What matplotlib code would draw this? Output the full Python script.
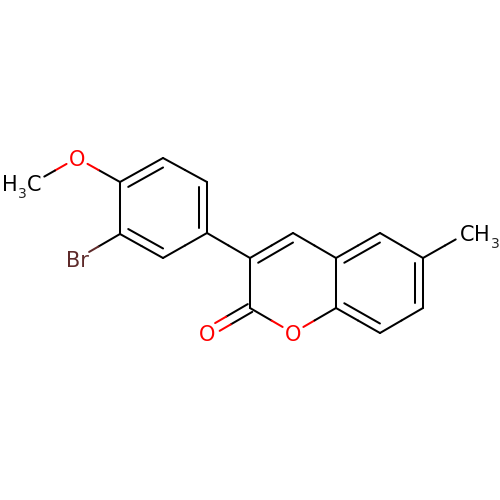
import numpy as np
import matplotlib
matplotlib.use("Agg")
import matplotlib.pyplot as plt

# atom positions (pixels)
names = ["C1p", "C2p", "C3p", "C4p", "C5p", "C6p", "OMe", "CMe", "Br",
         "C3", "C4", "C4a", "C5", "C6", "C7", "C8", "C8a", "O1", "C2", "O2", "C6Me"]
xs = [207, 163, 120, 120, 163, 207, 77, 33, 77,
      250, 293, 336, 380, 423, 423, 380, 336, 293, 250, 207, 467]
ys = [233, 258, 234, 182, 158, 182, 158, 183, 259,
      258, 233, 258, 233, 258, 308, 333, 308, 333, 308, 333, 233]

single_bonds = [("C1p", "C3"), ("C3p", "Br"), ("C4p", "OMe"), ("OMe", "CMe"),
                ("C3", "C2"), ("C2", "O1"), ("O1", "C8a"), ("C4", "C4a"),
                ("C4a", "C8a"), ("C5", "C6"), ("C7", "C8"), ("C6", "C6Me"),
                ("C1p", "C2p"), ("C3p", "C4p"), ("C5p", "C6p")]
# double bonds: inner line pulled toward the ring centre
ring_doubles = [("C2p", "C3p", "p"), ("C4p", "C5p", "p"), ("C6p", "C1p", "p"),
                ("C3", "C4", "o"), ("C4a", "C5", "b"), ("C6", "C7", "b"), ("C8", "C8a", "b")]
ring_atoms = {"p": ["C1p", "C2p", "C3p", "C4p", "C5p", "C6p"],
              "o": ["C3", "C4", "C4a", "C8a", "O1", "C2"],
              "b": ["C4a", "C5", "C6", "C7", "C8", "C8a"]}

colors = {"OMe": "#ff0000", "O1": "#ff0000", "O2": "#ff0000", "Br": "#5e2a2a"}
trims = {"OMe": 12, "O1": 12, "O2": 12, "Br": 14, "CMe": 13, "C6Me": 13}
pos = {n: np.array([x, y], dtype=float) for n, x, y in zip(names, xs, ys)}
line_w = 1.45

fig = plt.figure(figsize=(5, 5), dpi=100)
ax = fig.add_axes([0, 0, 1, 1])
ax.set_xlim(0, 500)
ax.set_ylim(500, 0)
ax.axis("off")


def draw_bond(a, b, offset=(0, 0)):
    # each half takes the colour of its own atom
    pa, pb = pos[a], pos[b]
    d = (pb - pa) / np.linalg.norm(pb - pa)
    mid = (pa + pb) / 2 + offset
    start = pa + d * trims.get(a, 0) + offset
    end = pb - d * trims.get(b, 0) + offset
    for p, q, name in [(start, mid, a), (mid, end, b)]:
        ax.plot([p[0], q[0]], [p[1], q[1]], color=colors.get(name, "black"),
                lw=line_w, solid_capstyle="round")


for a, b in single_bonds:
    draw_bond(a, b)

for a, b, ring in ring_doubles:
    draw_bond(a, b)
    centre = np.mean([pos[n] for n in ring_atoms[ring]], axis=0)
    p = pos[a] + (centre - pos[a]) * 0.19
    q = pos[b] + (centre - pos[b]) * 0.19
    ax.plot([p[0], q[0]], [p[1], q[1]], color="black", lw=line_w, solid_capstyle="round")

# carbonyl is drawn as two lines either side of the axis
d = pos["O2"] - pos["C2"]
n = np.array([-d[1], d[0]]) / np.linalg.norm(d)
draw_bond("C2", "O2", n * 4.5)
draw_bond("C2", "O2", n * -4.5)

fs = 15
ax.text(77, 158, "O", color="#ff0000", fontsize=fs, ha="center", va="center_baseline")
ax.text(293, 333, "O", color="#ff0000", fontsize=fs, ha="center", va="center_baseline")
ax.text(207, 333, "O", color="#ff0000", fontsize=fs, ha="center", va="center_baseline")
ax.text(77, 259, "Br", color="#5e2a2a", fontsize=fs, ha="center", va="center_baseline")
ax.text(2, 191, "H", color="black", fontsize=fs, ha="left", va="baseline")
ax.text(17.5, 198, "3", color="#222222", fontsize=10, ha="left", va="baseline")
ax.text(26.5, 191, "C", color="black", fontsize=fs, ha="left", va="baseline")
ax.text(459.5, 241, "C", color="black", fontsize=fs, ha="left", va="baseline")
ax.text(474.5, 241, "H", color="black", fontsize=fs, ha="left", va="baseline")
ax.text(490.5, 248, "3", color="#222222", fontsize=10, ha="left", va="baseline")

fig.savefig("out.png", dpi=100, facecolor="white")
